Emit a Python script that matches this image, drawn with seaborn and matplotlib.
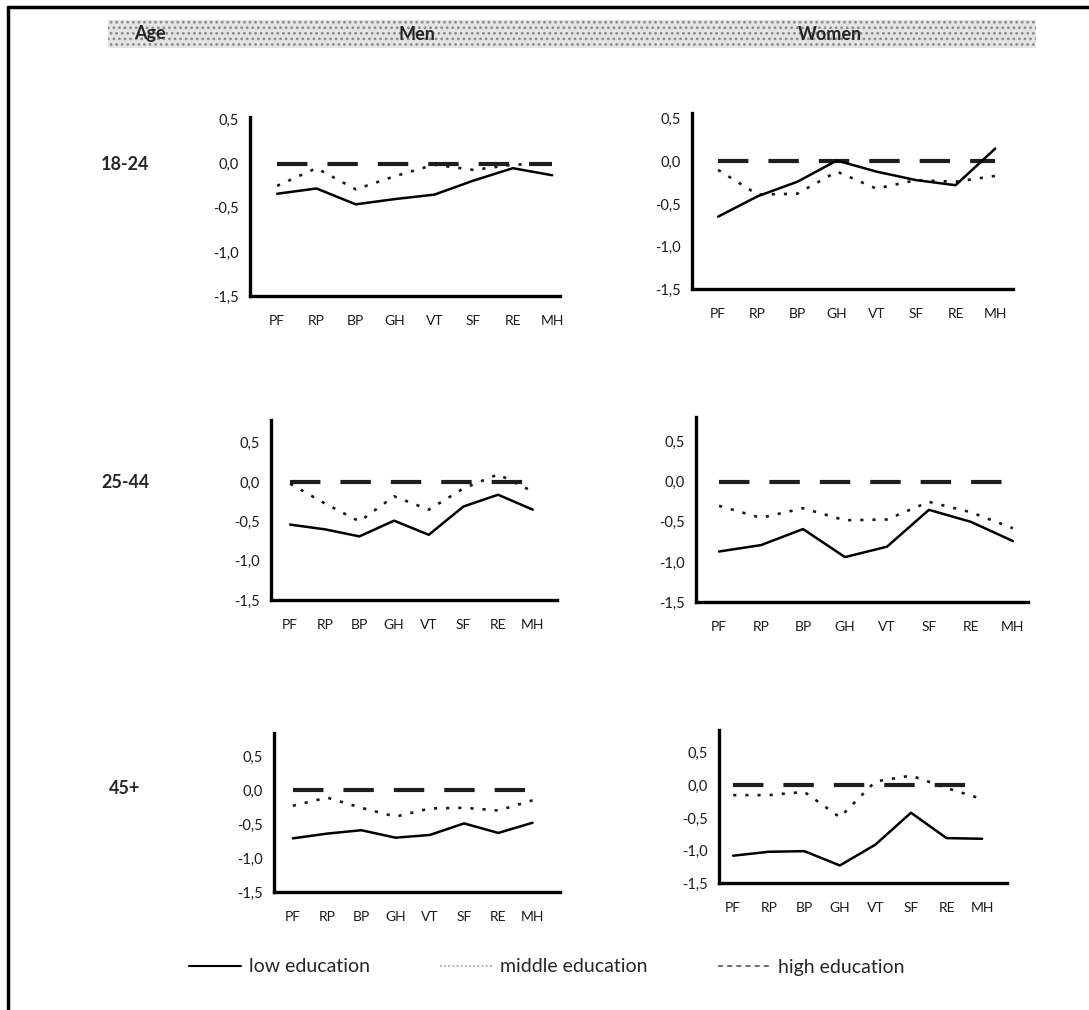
import matplotlib
matplotlib.use("Agg")
import matplotlib.pyplot as plt
import seaborn as sns
import pandas as pd
from matplotlib.lines import Line2D
from matplotlib.patches import Rectangle

# SF-36 scales on the x axis
scales = ['PF', 'RP', 'BP', 'GH', 'VT', 'SF', 'RE', 'MH']
yticks = [0.5, 0.0, -0.5, -1.0, -1.5]
ytick_labels = ['0,5', '0,0', '-0,5', '-1,0', '-1,5']
age_groups = ['18-24', '25-44', '45+']

# values (high education = reference, 0)
men_18_low = [-0.34, -0.28, -0.46, -0.40, -0.35, -0.19, -0.05, -0.13]
men_18_mid = [-0.25, -0.05, -0.29, -0.14, -0.01, -0.07, -0.01, 0.00]
women_18_low = [-0.65, -0.41, -0.24, 0.01, -0.12, -0.22, -0.28, 0.15]
women_18_mid = [-0.10, -0.39, -0.38, -0.12, -0.32, -0.22, -0.24, -0.17]
men_25_low = [-0.54, -0.60, -0.69, -0.49, -0.67, -0.31, -0.16, -0.35]
men_25_mid = [-0.02, -0.27, -0.50, -0.18, -0.35, -0.08, 0.10, -0.12]
women_25_low = [-0.87, -0.79, -0.59, -0.94, -0.81, -0.35, -0.50, -0.74]
women_25_mid = [-0.30, -0.45, -0.33, -0.48, -0.47, -0.25, -0.38, -0.58]
men_45_low = [-0.71, -0.64, -0.59, -0.70, -0.66, -0.49, -0.63, -0.48]
men_45_mid = [-0.23, -0.11, -0.26, -0.39, -0.27, -0.26, -0.30, -0.15]
women_45_low = [-1.08, -1.02, -1.01, -1.23, -0.91, -0.42, -0.81, -0.82]
women_45_mid = [-0.15, -0.15, -0.10, -0.49, 0.06, 0.15, -0.04, -0.21]
high_ref = [0.0, 0.0, 0.0, 0.0, 0.0, 0.0, 0.0, 0.0]

sns.set_style("white")
plt.rcParams['font.family'] = ['Lato', 'DejaVu Sans']
plt.rcParams['hatch.linewidth'] = 1.2

fig = plt.figure(figsize=(10.89, 10.10), dpi=100)

# each panel: low, middle, [left, bottom, width, height], xlim, ylim top
panels = [
    (men_18_low, men_18_mid, [0.2296, 0.7069, 0.2847, 0.1772], (-0.69, 7.2), 0.53),
    (women_18_low, women_18_mid, [0.6354, 0.7139, 0.2948, 0.1743], (-0.66, 7.45), 0.57),
    (men_25_low, men_25_mid, [0.2489, 0.4059, 0.2626, 0.1782], (-0.55, 7.7), 0.79),
    (women_25_low, women_25_mid, [0.6391, 0.4040, 0.3049, 0.1832], (-0.55, 7.36), 0.81),
    (men_45_low, men_45_mid, [0.2516, 0.1168, 0.2626, 0.1574], (-0.55, 7.8), 0.84),
    (women_45_low, women_45_mid, [0.6602, 0.1257, 0.2645, 0.1515], (-0.4, 7.7), 0.85),
]

for low, mid, rect, xlim, ytop in panels:
    ax = fig.add_axes(rect)
    df = pd.DataFrame({'scale': scales, 'low': low, 'middle': mid, 'high': high_ref})
    sns.lineplot(data=df, x='scale', y='high', ax=ax, color='#1e1e1e', lw=3.0,
                 linestyle=(0, (7.3, 4.8)), sort=False)
    sns.lineplot(data=df, x='scale', y='middle', ax=ax, color='#1a1a1a', lw=1.9,
                 linestyle=(0, (1.2, 3.4)), sort=False)
    sns.lineplot(data=df, x='scale', y='low', ax=ax, color='black', lw=1.8, sort=False)
    ax.set_xlim(*xlim)
    ax.set_ylim(-1.5, ytop)
    ax.set_yticks(yticks)
    ax.set_yticklabels(ytick_labels, fontsize=10.5, color='#1a1a1a')
    ax.set_xticks(range(len(scales)))
    ax.set_xticklabels(scales, fontsize=10, color='#1a1a1a')
    ax.tick_params(axis='both', length=0)
    ax.tick_params(axis='y', pad=8)
    ax.tick_params(axis='x', pad=14)
    ax.set_xlabel('')
    ax.set_ylabel('')
    sns.despine(ax=ax)
    for side in ['left', 'bottom']:
        ax.spines[side].set_linewidth(2.4)
        ax.spines[side].set_color('black')

# row labels
for label, y in zip(age_groups, [165, 482, 788]):
    fig.text(125 / 1089, 1 - y / 1010, label, fontsize=13, fontweight='bold',
             ha='center', va='center')

# header band
band = Rectangle((108 / 1089, 1 - 48 / 1010), (1036 - 108) / 1089, 28 / 1010,
                 transform=fig.transFigure, facecolor='#e4e4e4', edgecolor='#8c8c8c',
                 hatch='...', lw=0)
fig.add_artist(band)
for label, x in zip(['Age', 'Men', 'Women'], [150, 417, 830]):
    fig.text(x / 1089, 1 - 34 / 1010, label, fontsize=13, fontweight='bold',
             ha='center', va='center')

# frame (left and top edge)
fig.add_artist(Line2D([8 / 1089, 8 / 1089], [0, 1 - 7 / 1010], transform=fig.transFigure,
                      color='black', lw=2.5))
fig.add_artist(Line2D([8 / 1089, 1], [1 - 7 / 1010, 1 - 7 / 1010], transform=fig.transFigure,
                      color='black', lw=2.5))

# legend
handles = [
    Line2D([], [], color='black', lw=1.5),
    Line2D([], [], color='#9a9a9a', lw=1.2, linestyle=(0, (1, 1.5))),
    Line2D([], [], color='#555555', lw=1.2, linestyle=(0, (3, 2.5))),
]
fig.legend(handles, ['low education', 'middle education', 'high education'],
           loc='center', bbox_to_anchor=(0.502, 1 - 967 / 1010), ncol=3, frameon=False,
           fontsize=14, handlelength=2.7, handletextpad=0.4, columnspacing=3.6)

fig.savefig('out.png', dpi=100)
